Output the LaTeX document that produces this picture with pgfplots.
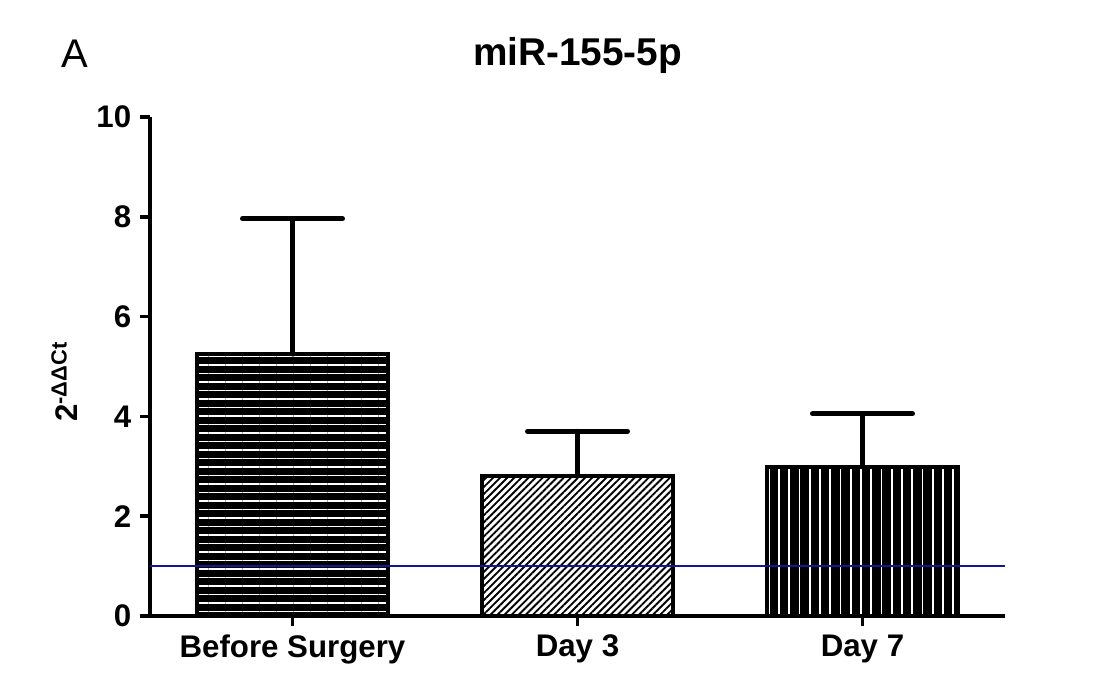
\documentclass[border=0pt]{standalone}
\usepackage{fontspec}
\setmainfont{Liberation Sans}
\usepackage{pgfplots}
\pgfplotsset{compat=1.18}
\usetikzlibrary{patterns.meta}

\begin{document}
\begin{tikzpicture}
\begin{axis}[
    name=ax,
    scale only axis,
    width=342pt, height=199.6pt,
    xmin=-0.5, xmax=2.5,
    ymin=0, ymax=10,
    axis x line*=bottom,
    axis y line*=left,
    axis line style={-, line width=1.5pt},
    xtick={0,1,2},
    xticklabels={Before Surgery, Day 3, Day 7},
    ytick={0,2,4,6,8,10},
    tick align=outside,
    major tick length=4pt,
    tick style={line width=1.5pt, black},
    ticklabel style={font=\bfseries\fontsize{12.5}{14}\selectfont},
    /pgf/number format/assume math mode=true,
    ybar, bar width=0.67,
    ylabel={\bfseries 2\textsuperscript{-ΔΔCt}},
    ylabel style={font=\fontsize{12.5}{14}\selectfont, at={(axis description cs:-0.1,0.47)}, anchor=center},
    error bars/y dir=plus,
    error bars/y explicit,
    error bars/error bar style={line width=2pt, line cap=round, black},
    error bars/error mark options={rotate=90, mark size=20pt, line width=2pt, line cap=round, black},
]
% before surgery: black with white horizontal lines
\addplot[bar shift=0pt, draw=black, line width=1.6pt,
    preaction={fill=black},
    pattern={Lines[angle=0, distance=3.4pt, line width=0.65pt]}, pattern color=white]
    coordinates {(0,5.25) +- (0,2.71)};
% day 3: diagonal hatch
\addplot[bar shift=0pt, draw=black, line width=1.6pt,
    pattern={Lines[angle=45, distance=2pt, line width=0.75pt]}, pattern color=black]
    coordinates {(1,2.81) +- (0,0.89)};
% day 7: black with white vertical lines
\addplot[bar shift=0pt, draw=black, line width=1.6pt,
    preaction={fill=black},
    pattern={Lines[angle=90, distance=4.1pt, line width=0.7pt]}, pattern color=white]
    coordinates {(2,2.99) +- (0,1.06)};
% reference level
\addplot[sharp plot, color={rgb,255:red,20;green,20;blue,150}, line width=0.8pt, forget plot]
    coordinates {(-0.5,1) (2.5,1)};
\end{axis}
\node[font=\bfseries\fontsize{15.5}{18}\selectfont] at ([yshift=24.8pt]ax.north) {miR-155-5p};
\node[font=\fontsize{16}{18}\selectfont] at ([xshift=-30pt,yshift=25.2pt]ax.north west) {A};
\pgfresetboundingbox
\path ([xshift=-60pt,yshift=-28.8pt]ax.south west) rectangle ([xshift=37.6pt,yshift=46.8pt]ax.north east);
\end{tikzpicture}
\end{document}
